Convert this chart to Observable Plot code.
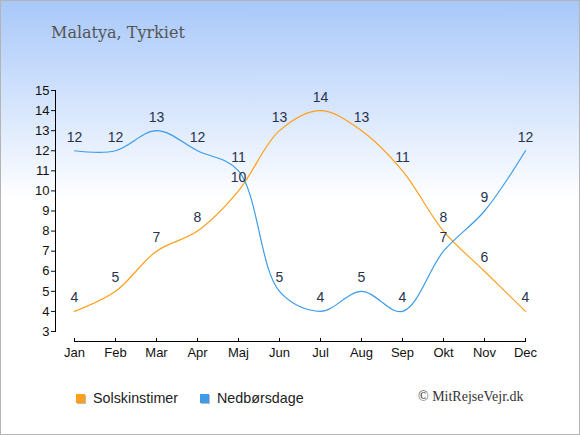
<!DOCTYPE html>
<html>
<head>
<meta charset="utf-8">
<script src="https://cdn.jsdelivr.net/npm/d3@7"></script>
<script src="https://cdn.jsdelivr.net/npm/@observablehq/plot@0.6"></script>
<style>
  html, body { margin: 0; padding: 0; background: #fff; }
  #chart {
    position: relative; width: 580px; height: 435px; box-sizing: border-box;
    border: 1px solid #b4b4b4;
    background: linear-gradient(to bottom, #a8c8fa 0%, #ffffff 46%, #ffffff 100%);
    overflow: hidden;
  }
  #title {
    height: 55px; box-sizing: border-box; padding: 22px 0 0 50px;
    font-family: "DejaVu Serif", serif; font-size: 16px; color: #555;
  }
  #plot svg { display: block; background: transparent; }
  #legend {
    position: relative; height: 63px;
    font-family: "Liberation Sans", Arial, sans-serif; font-size: 14.3px; color: #222;
  }
  .item { position: absolute; top: 20px; display: flex; align-items: center; }
  .sw { width: 9px; height: 9px; margin-right: 8px; box-shadow: 1px 1px 0 #bbb; }
  #copy {
    position: absolute; left: 417px; top: 19px;
    font-family: "Liberation Serif", serif; font-size: 14px; color: #333;
  }
</style>
</head>
<body>
<div id="chart">
  <div id="title">Malatya, Tyrkiet</div>
  <div id="plot"></div>
  <div id="legend"></div>
</div>
<script>
const months = ["Jan","Feb","Mar","Apr","Maj","Jun","Jul","Aug","Sep","Okt","Nov","Dec"];
const solskinstimer = [4,5,7,8,10,13,14,13,11,8,6,4];
const nedboersdage = [12,12,13,12,11,5,4,5,4,7,9,12];
const yTicks = [3,4,5,6,7,8,9,10,11,12,13,14,15];
const seriesNames = ["Solskinstimer","Nedbørsdage"];
const seriesColors = ["#ff9f1c","#3d9be9"];

const rows = [];
months.forEach((m, i) => {
  rows.push({month: m, value: solskinstimer[i], series: seriesNames[0]});
  rows.push({month: m, value: nedboersdage[i], series: seriesNames[1]});
});

const plot = Plot.plot({
  width: 578,
  height: 314,
  marginTop: 34,
  marginBottom: 29,
  marginLeft: 54,
  marginRight: 54,
  style: {background: "transparent", fontFamily: "'Liberation Sans', Arial, sans-serif"},
  x: {type: "point", domain: months, padding: 0, insetLeft: 19},
  y: {domain: [3, 15], insetBottom: 10},
  color: {domain: seriesNames, range: seriesColors},
  marks: [
    Plot.frame({anchor: "left", insetBottom: 10, stroke: "#000"}),
    Plot.frame({anchor: "bottom", insetLeft: 19, stroke: "#000"}),
    Plot.axisY({ticks: yTicks, tickSize: 4, tickPadding: 2, fontSize: 13, color: "#111", label: null}),
    Plot.axisX({tickSize: 3, dy: -3, tickFormat: () => "", label: null}),
    Plot.axisX({tickSize: 0, tickPadding: 6, fontSize: 13, color: "#111", label: null}),
    Plot.line(rows, {x: "month", y: "value", z: "series", stroke: "series", curve: "catmull-rom", strokeWidth: 1.2}),
    Plot.text(rows, {x: "month", y: "value", text: d => String(d.value), dy: -13.5, fontSize: 14, fill: "#27334d"})
  ]
});
document.getElementById("plot").appendChild(plot);

const legend = document.getElementById("legend");
const lefts = [75, 199];
seriesNames.forEach((name, i) => {
  const it = document.createElement("div");
  it.className = "item";
  it.style.left = lefts[i] + "px";
  const sw = document.createElement("span");
  sw.className = "sw";
  sw.style.background = seriesColors[i];
  const t = document.createElement("span");
  t.textContent = name;
  it.appendChild(sw); it.appendChild(t);
  legend.appendChild(it);
});
const copy = document.createElement("div");
copy.id = "copy";
copy.textContent = "© MitRejseVejr.dk";
legend.appendChild(copy);
</script>
</body>
</html>
